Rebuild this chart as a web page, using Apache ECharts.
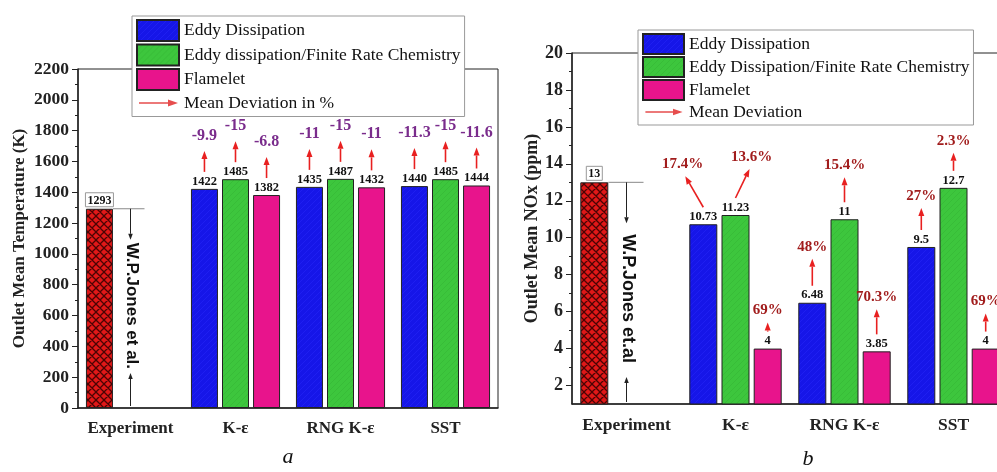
<!DOCTYPE html>
<html><head><meta charset="utf-8">
<script src="https://cdn.jsdelivr.net/npm/echarts@6/dist/echarts.min.js"></script>
<style>html,body{margin:0;padding:0;background:#fff}#c{width:997px;height:472px}</style>
</head><body><div id="c"></div>
<script>
// ---------- data ----------
const categories = ['Experiment', 'K-ε', 'RNG K-ε', 'SST'];

const tempExperiment = 1293;
const tempEddy = [1422, 1435, 1440];
const tempEdfrc = [1485, 1487, 1485];
const tempFlamelet = [1382, 1432, 1444];
const tempDevEddy = ['-9.9', '-11', '-11.3'];
const tempDevEdfrc = ['-15', '-15', '-15'];
const tempDevFlamelet = ['-6.8', '-11', '-11.6'];

const noxExperiment = 13;
const noxEddy = [10.73, 6.48, 9.5];
const noxEdfrc = [11.23, 11, 12.7];
const noxFlamelet = [4, 3.85, 4];
const noxDevEddy = ['17.4%', '48%', '27%'];
const noxDevEdfrc = ['13.6%', '15.4%', '2.3%'];
const noxDevFlamelet = ['69%', '70.3%', '69%'];

const noxTickValues = [2, 4, 6, 8, 10, 12, 14, 16, 18, 20];
const noxMinorTickValues = [3, 5, 7, 9, 11, 13, 15, 17, 19];

// annotation arrow geometry (px): [length, horizontal lean] per series / category
const noxArrowGeom = [
  [[31, -18], [27, 0], [22, 0]],
  [[29, 14], [25, 0], [18, 0]],
  [[9, 0], [25, 0], [18, 0]]
];

// ---------- styles ----------
const SERIF = '"Liberation Serif", "Times New Roman", serif';
const SANS = '"Liberation Sans", Arial, sans-serif';

function makePattern(bg, line, period, width, cross) {
  const c = document.createElement('canvas');
  c.width = c.height = period;
  const g = c.getContext('2d');
  g.fillStyle = bg; g.fillRect(0, 0, period, period);
  g.strokeStyle = line; g.lineWidth = width;
  g.beginPath();
  for (let o = -period; o <= period; o += period) {
    g.moveTo(o, period); g.lineTo(o + period, 0);
    if (cross) { g.moveTo(o, 0); g.lineTo(o + period, period); }
  }
  g.stroke();
  return c;
}
const expFill = { image: makePattern('#e01818', '#4a0404', 8, 1.3, true), repeat: 'repeat' };
const blueFill = { image: makePattern('#1616e8', '#2222f2', 6, 0.8, false), repeat: 'repeat' };
const greenFill = { image: makePattern('#3dc63d', '#37ba37', 6, 0.8, false), repeat: 'repeat' };
const pinkFill = '#e8148c';

const arrowIcon = 'path://M0,0L0.01,0L0,0.01Z M2,9.7 L31,9.7 L31,7 L41,10.5 L31,14 L31,11.3 L2,11.3Z M41.99,21L42,21L42,20.99Z';

function expItem(v, fs) {
  return {
    value: v,
    itemStyle: { color: expFill },
    label: { borderColor: '#999', borderWidth: 1, padding: [2, 2, 0, 2], distance: 2, fontSize: fs }
  };
}
function barSeries(name, xi, data, color, bw, fs) {
  return {
    name, type: 'bar', xAxisIndex: xi, yAxisIndex: xi === 0 ? 0 : 1,
    data, barWidth: bw, barGap: '15%',
    itemStyle: { color, borderColor: '#222', borderWidth: 1 },
    label: { show: true, position: 'top', distance: 1, fontFamily: SERIF, fontWeight: 'bold', fontSize: fs, color: '#111' },
    emphasis: { disabled: true }
  };
}
const axisText = { fontFamily: SERIF, fontWeight: 'bold', color: '#222' };
const plain = v => String(v);

function xAxes(gi, fs) {
  return [
    { gridIndex: gi, type: 'category', data: categories, position: 'bottom',
      axisLine: { lineStyle: { color: '#222', width: 1.5 } },
      axisTick: { alignWithLabel: true, length: 5, lineStyle: { color: '#222' } },
      axisLabel: Object.assign({ fontSize: fs, margin: 12, interval: 0 }, axisText) },
    { gridIndex: gi, type: 'category', data: categories, position: 'bottom',
      axisLine: { show: false }, axisLabel: { show: false },
      axisTick: { length: 4, interval: 0, lineStyle: { color: '#222' } } }
  ];
}

const option = {
  animation: false,
  backgroundColor: '#fff',
  grid: [
    { left: 78, top: 69, right: 499, bottom: 64, show: true, borderColor: '#222', borderWidth: 1, containLabel: false, outerBoundsMode: 'none' },
    { left: 572, top: 53, right: -11, bottom: 68, show: true, borderColor: '#222', borderWidth: 1, containLabel: false, outerBoundsMode: 'none' }
  ],
  legend: [
    { left: 132, top: 16, orient: 'vertical', itemWidth: 42, itemHeight: 21, itemGap: 1.5, padding: [3, 4],
      backgroundColor: '#fff', borderColor: '#999', borderWidth: 1, icon: 'rect', selectedMode: false,
      textStyle: { fontFamily: SERIF, fontSize: 17.5, lineHeight: 21, color: '#111' }, z: 10,
      data: ['Eddy Dissipation', 'Eddy dissipation/Finite Rate Chemistry', 'Flamelet', { name: 'Mean Deviation in %', icon: arrowIcon }] },
    { left: 638, top: 30, orient: 'vertical', itemWidth: 41, itemHeight: 20, itemGap: 1, padding: [3, 4],
      backgroundColor: '#fff', borderColor: '#999', borderWidth: 1, icon: 'rect', selectedMode: false,
      textStyle: { fontFamily: SERIF, fontSize: 17.5, lineHeight: 20, color: '#111' }, z: 10,
      data: ['Eddy Dissipation', 'Eddy Dissipation/Finite Rate Chemistry', 'Flamelet', { name: 'Mean Deviation', icon: arrowIcon }] }
  ],
  xAxis: [].concat(xAxes(0, 17), xAxes(1, 17.5)),
  yAxis: [
    { gridIndex: 0, type: 'value', position: 'left', min: 0, max: 2200, interval: 200,
      name: 'Outlet Mean Temperature (K)', nameLocation: 'middle', nameGap: 50, nameRotate: 90, nameMoveOverlap: false,
      nameTextStyle: Object.assign({ fontSize: 17 }, axisText),
      axisLine: { show: true, lineStyle: { color: '#222', width: 1.5 } },
      axisTick: { show: true, length: 6, lineStyle: { color: '#222' } },
      minorTick: { show: true, splitNumber: 2, length: 3, lineStyle: { color: '#222' } },
      splitLine: { show: false },
      axisLabel: Object.assign({ fontSize: 17.5, margin: 9, formatter: plain }, axisText) },
    { gridIndex: 1, type: 'value', position: 'left', min: 1, max: 20,
      name: 'Outlet Mean NOx (ppm)', nameLocation: 'middle', nameGap: 31, nameRotate: 90, nameMoveOverlap: false,
      nameTextStyle: Object.assign({ fontSize: 18 }, axisText),
      axisLine: { show: true, lineStyle: { color: '#222', width: 1.5 } },
      axisTick: { show: true, length: 6, customValues: noxTickValues, lineStyle: { color: '#222' } },
      splitLine: { show: false },
      axisLabel: Object.assign({ fontSize: 18, margin: 9, customValues: noxTickValues, formatter: plain }, axisText) },
    { gridIndex: 1, type: 'value', position: 'left', min: 1, max: 20,
      axisLine: { show: false }, axisLabel: { show: false }, splitLine: { show: false },
      axisTick: { show: true, length: 3, customValues: noxMinorTickValues, lineStyle: { color: '#222' } } }
  ],
  series: [
    barSeries('Eddy Dissipation', 0, [expItem(tempExperiment, 12)].concat(tempEddy), blueFill, 27, 12.5),
    barSeries('Eddy dissipation/Finite Rate Chemistry', 0, ['-'].concat(tempEdfrc), greenFill, 27, 12.5),
    barSeries('Flamelet', 0, ['-'].concat(tempFlamelet), pinkFill, 27, 12.5),
    { name: 'Mean Deviation in %', type: 'scatter', xAxisIndex: 0, yAxisIndex: 0, data: [], itemStyle: { color: '#e02020' } },
    barSeries('Eddy Dissipation', 2, [expItem(noxExperiment, 12)].concat(noxEddy), blueFill, 28, 12.5),
    barSeries('Eddy Dissipation/Finite Rate Chemistry', 2, ['-'].concat(noxEdfrc), greenFill, 28, 12.5),
    barSeries('Flamelet', 2, ['-'].concat(noxFlamelet), pinkFill, 28, 12.5),
    { name: 'Mean Deviation', type: 'scatter', xAxisIndex: 2, yAxisIndex: 1, data: [], itemStyle: { color: '#e02020' } }
  ]
};

const chart = echarts.init(document.getElementById('c'), null, { renderer: 'canvas' });
chart.setOption(option);

// ---------- annotations derived from the laid-out bars ----------
const model = chart.getModel();
function barGeom(si, di) {
  const l = model.getSeriesByIndex(si).getData().getItemLayout(di);
  return { cx: l.x + l.width / 2, top: Math.min(l.y, l.y + l.height), right: l.x + l.width };
}
function arrow(x1, y1, x2, y2, color, lw, hl, hw) {
  const a = Math.atan2(y2 - y1, x2 - x1);
  const bx = x2 - hl * Math.cos(a), by = y2 - hl * Math.sin(a);
  const px = -Math.sin(a) * hw / 2, py = Math.cos(a) * hw / 2;
  return [
    { type: 'line', z: 50, silent: true, shape: { x1, y1, x2: bx, y2: by }, style: { stroke: color, lineWidth: lw } },
    { type: 'polygon', z: 50, silent: true, shape: { points: [[x2, y2], [bx + px, by + py], [bx - px, by - py]] }, style: { fill: color } }
  ];
}
function text(x, y, t, font, fill, extra) {
  return Object.assign({ type: 'text', z: 50, silent: true, x, y,
    style: { text: t, font, fill, align: 'center', verticalAlign: 'middle' } }, extra || {});
}
const g = [];

// left panel deviations
const tempDevs = [tempDevEddy, tempDevEdfrc, tempDevFlamelet];
for (let s = 0; s < 3; s++) {
  for (let k = 0; k < 3; k++) {
    const b = barGeom(s, k + 1);
    const base = b.top - 17, tip = base - 21;
    g.push.apply(g, arrow(b.cx, base, b.cx, tip, '#e82020', 1.6, 8, 6));
    g.push(text(b.cx, tip - 15, tempDevs[s][k], 'bold 16px ' + SERIF, '#7a2c8c'));
  }
}
// right panel deviations
const noxDevs = [noxDevEddy, noxDevEdfrc, noxDevFlamelet];
for (let s = 0; s < 3; s++) {
  for (let k = 0; k < 3; k++) {
    const b = barGeom(s + 4, k + 1);
    const base = b.top - 17;
    const [len, lean] = noxArrowGeom[s][k];
    const tx = b.cx + lean, ty = base - len;
    g.push.apply(g, arrow(b.cx, base, tx, ty, '#e82020', 1.6, 8, 6));
    g.push(text(tx + lean * 0.15, ty - 12, noxDevs[s][k], 'bold 15px ' + SERIF, '#a11c1c'));
  }
}

// experiment annotations
function expNote(si, gi, minVal, lineExt, downLen, textGap, label, fs, upLen) {
  const b = barGeom(si, 0);
  const p = chart.convertToPixel({ gridIndex: gi }, [0, minVal]);
  const ex = p[0], bottom = p[1];
  g.push({ type: 'line', z: 50, silent: true, shape: { x1: b.right, y1: b.top, x2: ex + lineExt, y2: b.top }, style: { stroke: '#888', lineWidth: 1 } });
  g.push.apply(g, arrow(ex, b.top, ex, b.top + downLen, '#222', 1, 6, 4.5));
  g.push({ type: 'text', z: 50, silent: true, x: ex + 1, y: b.top + textGap, rotation: -Math.PI / 2,
    style: { text: label, font: 'bold ' + fs + 'px ' + SANS, fill: '#111', align: 'left', verticalAlign: 'middle' } });
  g.push.apply(g, arrow(ex, bottom - 2, ex, bottom - upLen, '#222', 1, 6, 4.5));
}
expNote(0, 0, 0, 14, 31, 34, 'W.P.Jones et al.', 17, 35);
expNote(4, 1, 1, 17, 41, 52, 'W.P.Jones et.al', 18, 27);

// panel captions
g.push(text(288, 457, 'a', 'italic 22px ' + SERIF, '#111'));
g.push(text(808, 459, 'b', 'italic 22px ' + SERIF, '#111'));

chart.setOption({ graphic: { elements: g } });
</script>
</body></html>
